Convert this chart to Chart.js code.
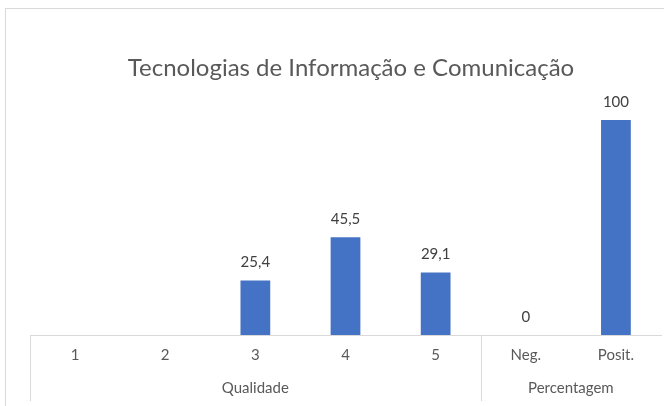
<!DOCTYPE html>
<html>
<head>
<meta charset="utf-8">
<script src="https://cdn.jsdelivr.net/npm/chart.js@4.4.1/dist/chart.umd.min.js"></script>
<style>
  html, body { margin: 0; padding: 0; background: #ffffff; }
  #wrap { position: relative; width: 664px; height: 406px; overflow: hidden; }
  #frame { position: absolute; left: 5px; top: 8px; width: 700px; height: 500px;
           border-left: 1px solid #d9d9d9; border-top: 1px solid #d9d9d9; box-sizing: border-box; }
  canvas { position: absolute; left: 0; top: 0; }
</style>
</head>
<body>
<div id="wrap">
  <div id="frame"></div>
  <canvas id="c" width="664" height="406"></canvas>
</div>
<script>
const chartTitle = "Tecnologias de Informação e Comunicação";
const categories = ["1", "2", "3", "4", "5", "Neg.", "Posit."];
const groups = ["Qualidade", "Qualidade", "Qualidade", "Qualidade", "Qualidade", "Percentagem", "Percentagem"];
const values = [null, null, 25.4, 45.5, 29.1, 0, 100];

const FONT = "Lato, 'Open Sans', sans-serif";

function fmt(v) { return String(v).replace('.', ','); }

const labelPlugin = {
  id: 'labelsAndGroups',
  afterDatasetsDraw(chart) {
    const ctx = chart.ctx;
    const meta = chart.getDatasetMeta(0);
    ctx.save();
    ctx.fillStyle = '#404040';
    ctx.font = "15px " + FONT;
    ctx.textAlign = 'center';
    ctx.textBaseline = 'middle';
    meta.data.forEach((bar, i) => {
      const v = values[i];
      if (v === null || v === undefined) return;
      ctx.fillText(fmt(v), bar.x, bar.y - 18);
    });
    ctx.restore();
  },
  afterDraw(chart) {
    const ctx = chart.ctx;
    const xs = chart.scales.x;
    const area = chart.chartArea;
    const bottom = chart.height;
    const half = (xs.getPixelForValue(1) - xs.getPixelForValue(0)) / 2;
    const spans = [];
    groups.forEach((g, i) => {
      const last = spans[spans.length - 1];
      if (last && last.name === g) last.end = i; else spans.push({ name: g, start: i, end: i });
    });
    ctx.save();
    // title (centred on the chart frame, which is wider than the visible crop)
    ctx.fillStyle = '#595959';
    ctx.font = "24px " + FONT;
    ctx.textAlign = 'center';
    ctx.textBaseline = 'middle';
    ctx.fillText(chartTitle, chart.width / 2 + 19, 68);

    ctx.strokeStyle = '#d9d9d9';
    ctx.lineWidth = 1;
    spans.forEach(s => {
      const left = xs.getPixelForValue(s.start) - half;
      ctx.beginPath();
      ctx.moveTo(Math.round(left) + 0.5, area.bottom);
      ctx.lineTo(Math.round(left) + 0.5, bottom - 5);
      ctx.stroke();
    });
    ctx.fillStyle = '#595959';
    ctx.font = "15px " + FONT;
    spans.forEach(s => {
      const left = xs.getPixelForValue(s.start) - half;
      const right = xs.getPixelForValue(s.end) + half;
      ctx.fillText(s.name, (left + right) / 2, area.bottom + 53);
    });
    ctx.restore();
  }
};

new Chart(document.getElementById('c'), {
  type: 'bar',
  data: {
    labels: categories,
    datasets: [{
      data: values,
      backgroundColor: '#4472C4',
      borderWidth: 0,
      barPercentage: 0.33,
      categoryPercentage: 1.0
    }]
  },
  options: {
    responsive: false,
    animation: false,
    devicePixelRatio: 1,
    layout: { padding: { left: 30, right: 3, top: 98.5, bottom: 0 } },
    plugins: {
      legend: { display: false },
      tooltip: { enabled: false },
      title: { display: false }
    },
    scales: {
      x: {
        grid: { display: false, drawTicks: false },
        border: { display: true, color: '#d9d9d9', width: 1 },
        ticks: { color: '#595959', font: { family: FONT, size: 15 }, padding: 11, maxRotation: 0, autoSkip: false },
        afterFit(scale) { scale.height = 71; }
      },
      y: {
        display: false,
        min: 0,
        max: 110
      }
    }
  },
  plugins: [labelPlugin]
});
</script>
</body>
</html>
